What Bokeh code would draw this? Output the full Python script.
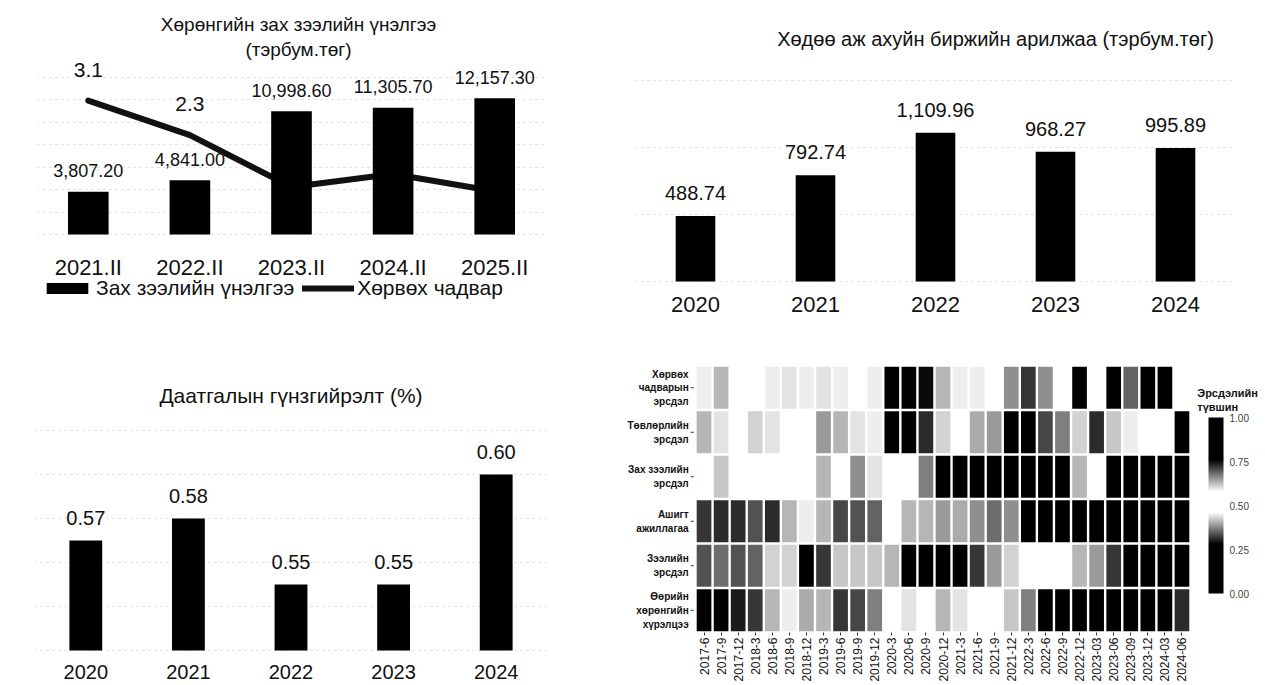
import numpy as np
from bokeh.plotting import figure
from bokeh.models import (Range1d, FactorRange, ColumnDataSource, Legend, LegendItem,
                          LinearColorMapper, ColorBar, FixedTicker, NumeralTickFormatter)
from bokeh.layouts import row, column
from bokeh.core.properties import value
from bokeh.embed import file_html
from bokeh.resources import INLINE

FONT = "Liberation Sans"

# ---------------- data ----------------
a_cats = ["2021.II", "2022.II", "2023.II", "2024.II", "2025.II"]
a_market = [3807.20, 4841.00, 10998.60, 11305.70, 12157.30]
a_liquidity = [3.1, 2.3, 1.1, 1.4, 1.0]
a_liq_labels = ["3.1", "2.3", "", "", ""]

b_years = ["2020", "2021", "2022", "2023", "2024"]
b_trade = [488.74, 792.74, 1109.96, 968.27, 995.89]

c_years = ["2020", "2021", "2022", "2023", "2024"]
c_depth = [0.57, 0.58, 0.55, 0.55, 0.60]

d_periods = ["2017-6", "2017-9", "2017-12", "2018-3", "2018-6", "2018-9", "2018-12",
             "2019-3", "2019-6", "2019-9", "2019-12", "2020-3", "2020-6", "2020-9",
             "2020-12", "2021-3", "2021-6", "2021-9", "2021-12", "2022-3", "2022-6",
             "2022-9", "2022-12", "2023-03", "2023-06", "2023-09", "2023-12", "2024-03",
             "2024-06"]
d_risks = ["Хөрвөх чадварын эрсдэл", "Төвлөрлийн эрсдэл", "Зах зээлийн эрсдэл",
           "Ашигт ажиллагаа", "Зээлийн эрсдэл", "Өөрийн хөрөнгийн хүрэлцээ"]
d_risk_labels = ["Хөрвөх\nчадварын\nэрсдэл", "Төвлөрлийн\nэрсдэл", "Зах зээлийн\nэрсдэл",
                 "Ашигт\nажиллагаа", "Зээлийн\nэрсдэл", "Өөрийн\nхөрөнгийн\nхүрэлцээ"]
d_liquidity = [0.59, 0.63, 0.52, 0.50, 0.59, 0.60, 0.59, 0.60, 0.59, 0.53, 0.59, 0.88, 0.90, 0.75,
               0.63, 0.59, 0.59, 0.54, 0.66, 0.72, 0.66, 0.51, 0.92, 0.55, 0.86, 0.69, 0.90, 0.93, 0.50]
d_concentration = [0.63, 0.60, 0.55, 0.61, 0.60, 0.52, 0.50, 0.65, 0.63, 0.60, 0.59, 0.76, 0.76, 0.73,
                   0.61, 0.54, 0.64, 0.65, 0.85, 0.82, 0.71, 0.67, 0.61, 0.73, 0.62, 0.59, 0.53, 0.51, 0.88]
d_market = [0.52, 0.62, 0.50, 0.51, 0.52, 0.53, 0.50, 0.63, 0.55, 0.66, 0.60, 0.54, 0.52, 0.67,
            0.90, 0.92, 0.95, 0.93, 0.91, 0.88, 0.94, 0.89, 0.63, 0.55, 0.90, 0.93, 0.96, 0.91, 0.94]
d_profit = [0.72, 0.73, 0.73, 0.70, 0.73, 0.63, 0.59, 0.63, 0.71, 0.70, 0.69, 0.55, 0.63, 0.63,
            0.65, 0.64, 0.66, 0.68, 0.66, 0.76, 0.88, 0.90, 0.92, 0.89, 0.94, 0.95, 0.91, 0.93, 0.96]
d_credit = [0.70, 0.68, 0.70, 0.69, 0.61, 0.61, 0.80, 0.72, 0.62, 0.62, 0.62, 0.63, 0.86, 0.88,
            0.84, 0.90, 0.72, 0.65, 0.61, 0.52, 0.50, 0.53, 0.63, 0.65, 0.72, 0.87, 0.91, 0.89, 0.93]
d_capital = [0.90, 0.88, 0.74, 0.72, 0.63, 0.59, 0.64, 0.63, 0.72, 0.71, 0.67, 0.52, 0.60, 0.54,
             0.63, 0.60, 0.51, 0.53, 0.62, 0.67, 0.92, 0.89, 0.94, 0.91, 0.93, 0.95, 0.90, 0.92, 0.73]
d_rows = [d_liquidity, d_concentration, d_market, d_profit, d_credit, d_capital]
d_cbar_ticks = [0.0, 0.25, 0.5, 0.75, 1.0]
d_cbar_title = "Эрсдэлийн\nтүвшин"


def base_fig(width, height, x_range, y_range, left, right, axis_at):
    p = figure(width=width, height=height, x_range=x_range, y_range=y_range,
               output_backend="svg", toolbar_location=None,
               min_border_left=left, min_border_right=right, min_border_top=0,
               min_border_bottom=0)
    p.frame_align = False
    p.outline_line_color = None
    p.xgrid.visible = False
    p.yaxis.visible = False
    ax = p.xaxis[0]
    ax.fixed_location = axis_at
    ax.axis_line_color = None
    ax.major_tick_line_color = None
    ax.minor_tick_line_color = None
    ax.major_label_text_font = FONT
    ax.major_label_text_color = "#111111"
    p.ygrid.grid_line_color = "#d9d9d9"
    p.ygrid.grid_line_dash = "2 4"
    return p


def add_text(p, x, y, text, size, y_offset, x_offset=0, align="center", **kw):
    p.text(x=x, y=y, text=text, text_font=value(FONT), text_font_size=size,
           text_align=align, text_baseline="middle", text_color="#111111",
           x_offset=x_offset, y_offset=y_offset, **kw)


# ---------------- panel A ----------------
A_H, A_BASE = 318, 234            # figure height, baseline (px from top)
a_ppu = 157 / 14000               # px per unit, bars
a_ppu_liq = 43.2                  # px per unit, line
pA = base_fig(620, A_H, a_cats,
              Range1d(-(A_H - A_BASE) / a_ppu, A_BASE / a_ppu), 37, 75, 0)
pA.extra_y_ranges = {"liq": Range1d(-(A_H - A_BASE) / a_ppu_liq, A_BASE / a_ppu_liq)}
pA.ygrid.ticker = FixedTicker(ticks=list(range(0, 14001, 2000)))
liq_line = pA.line(x=a_cats, y=a_liquidity, y_range_name="liq", line_color="#111111",
                   line_width=6, line_join="round", line_cap="round")
bars_a = pA.vbar(x=a_cats, top=a_market, width=0.4, fill_color="black", line_color=None)
add_text(pA, a_cats, a_market, [f"{v:,.2f}" for v in a_market], "18px", -21)
add_text(pA, a_cats, a_liquidity, a_liq_labels, "21px", -31, y_range_name="liq")
add_text(pA, [2.5], [pA.y_range.end], ["Хөрөнгийн зах зээлийн үнэлгээ"], "19px", 24, x_offset=7)
add_text(pA, [2.5], [pA.y_range.end], ["(тэрбум.төг)"], "19px", 49, x_offset=7)
pA.xaxis.major_label_text_font_size = "22px"
pA.xaxis.major_label_standoff = 14
legA = Legend(items=[LegendItem(label="Зах зээлийн үнэлгээ", renderers=[bars_a]),
                     LegendItem(label="Хөрвөх чадвар", renderers=[liq_line])],
              orientation="horizontal", location=(4, 18), glyph_width=52, glyph_height=14,
              label_text_font=FONT, label_text_font_size="21px", label_text_color="#111111",
              border_line_color=None, background_fill_alpha=0, padding=0, spacing=8,
              label_standoff=3, margin=0)
pA.add_layout(legA)

# ---------------- panel B ----------------
B_H, B_BASE = 318, 281
b_ppu = 201 / 1500
pB = base_fig(645, B_H, b_years, Range1d(-(B_H - B_BASE) / b_ppu, B_BASE / b_ppu), 15, 30, 0)
pB.ygrid.ticker = FixedTicker(ticks=[0, 500, 1000, 1500])
pB.vbar(x=b_years, top=b_trade, width=0.33, fill_color="black", line_color=None)
add_text(pB, b_years, b_trade, [f"{v:,.2f}" for v in b_trade], "20px", -23)
add_text(pB, [2.5], [pB.y_range.end], ["Хөдөө аж ахуйн биржийн арилжаа (тэрбум.төг)"], "20px", 38,
         x_offset=60)
pB.xaxis.major_label_text_font_size = "22px"
pB.xaxis.major_label_standoff = 9

# ---------------- panel C ----------------
C_H, C_BASE = 367, 332
c_ppu = 2200
c_floor = 0.52
pC = base_fig(620, C_H, c_years,
              Range1d(c_floor - (C_H - C_BASE) / c_ppu, c_floor + C_BASE / c_ppu), 34, 73, c_floor)
pC.ygrid.ticker = FixedTicker(ticks=[0.52, 0.54, 0.56, 0.58, 0.60, 0.62])
pC.vbar(x=c_years, top=c_depth, bottom=c_floor, width=0.32, fill_color="black", line_color=None)
add_text(pC, c_years, c_depth, [f"{v:.2f}" for v in c_depth], "20px", -23)
add_text(pC, [2.5], [pC.y_range.end], ["Даатгалын гүнзгийрэлт (%)"], "21px", 77)
pC.xaxis.major_label_text_font_size = "20px"
pC.xaxis.major_label_standoff = 8

# ---------------- panel D (heatmap) ----------------
xs, ys, vs = [], [], []
for risk, vals in zip(d_risks, d_rows):
    for per, v in zip(d_periods, vals):
        xs.append(per)
        ys.append(risk)
        vs.append(v)
src = ColumnDataSource(dict(period=xs, risk=ys, v=vs))

palette = []
for i in range(256):
    t = i / 255
    d = min(1.0, max(0.0, (abs(t - 0.52) - 0.06) / 0.18))
    g = int(round(255 * (1 - d)))
    palette.append("#%02x%02x%02x" % (g, g, g))
mapper = LinearColorMapper(palette=palette, low=0, high=1)

D_W = 645
col_px = 495 / len(d_periods)                 # width of one column on screen
side_cols = (D_W - 495) / 2 / col_px          # room for labels / colour bar on each side
pD = figure(width=D_W, height=367,
            x_range=FactorRange(*d_periods, range_padding=side_cols,
                                range_padding_units="absolute"),
            y_range=list(reversed(d_risks)),
            output_backend="svg", toolbar_location=None,
            min_border_left=0, min_border_right=0, min_border_top=47, min_border_bottom=53)
pD.frame_align = False
pD.outline_line_color = None
pD.grid.visible = False
pD.yaxis.visible = False
pD.rect(x="period", y="risk", width=0.86, height=0.94, source=src,
        fill_color={"field": "v", "transform": mapper}, line_color=None)
ax = pD.xaxis[0]
ax.axis_line_color = None
ax.major_tick_in = 0
ax.major_tick_out = 3
ax.major_tick_line_color = "#333333"
ax.minor_tick_line_color = None
ax.major_label_standoff = 2
ax.major_label_text_font = FONT
ax.major_label_text_color = "#111111"
ax.major_label_orientation = np.pi / 2
ax.major_label_text_font_size = "12px"

# row labels and their small ticks
n = len(d_risks)
pD.segment(x0=[-0.28] * n, x1=[-0.1] * n, y0=d_risks, y1=d_risks,
           line_color="#333333", line_width=1)
pD.text(x=[-0.4] * n, y=d_risks, text=d_risk_labels, text_font=value(FONT),
        text_font_size="10px", text_font_style="bold", text_align="right",
        text_baseline="middle", text_color="#111111", text_line_height=1.25)

# colour bar and its title
pD.text(x=[len(d_periods) + 0.4], y=[d_risks[0]], text=[d_cbar_title], text_font=value(FONT),
        text_font_size="11px", text_font_style="bold", text_align="left",
        text_baseline="middle", text_color="#111111", text_line_height=1.2, y_offset=12)
cbar = ColorBar(color_mapper=mapper, ticker=FixedTicker(ticks=d_cbar_ticks),
                formatter=NumeralTickFormatter(format="0.00"), width=15, height=176,
                location=(588, 39), padding=0,
                major_label_text_font=FONT, major_label_text_font_size="10px",
                major_tick_line_color=None, bar_line_color=None, label_standoff=6,
                background_fill_alpha=0, border_line_color=None)
pD.add_layout(cbar)

layout = column(row(pA, pB), row(pC, pD))
open("out.html", "w").write(file_html(layout, INLINE))
